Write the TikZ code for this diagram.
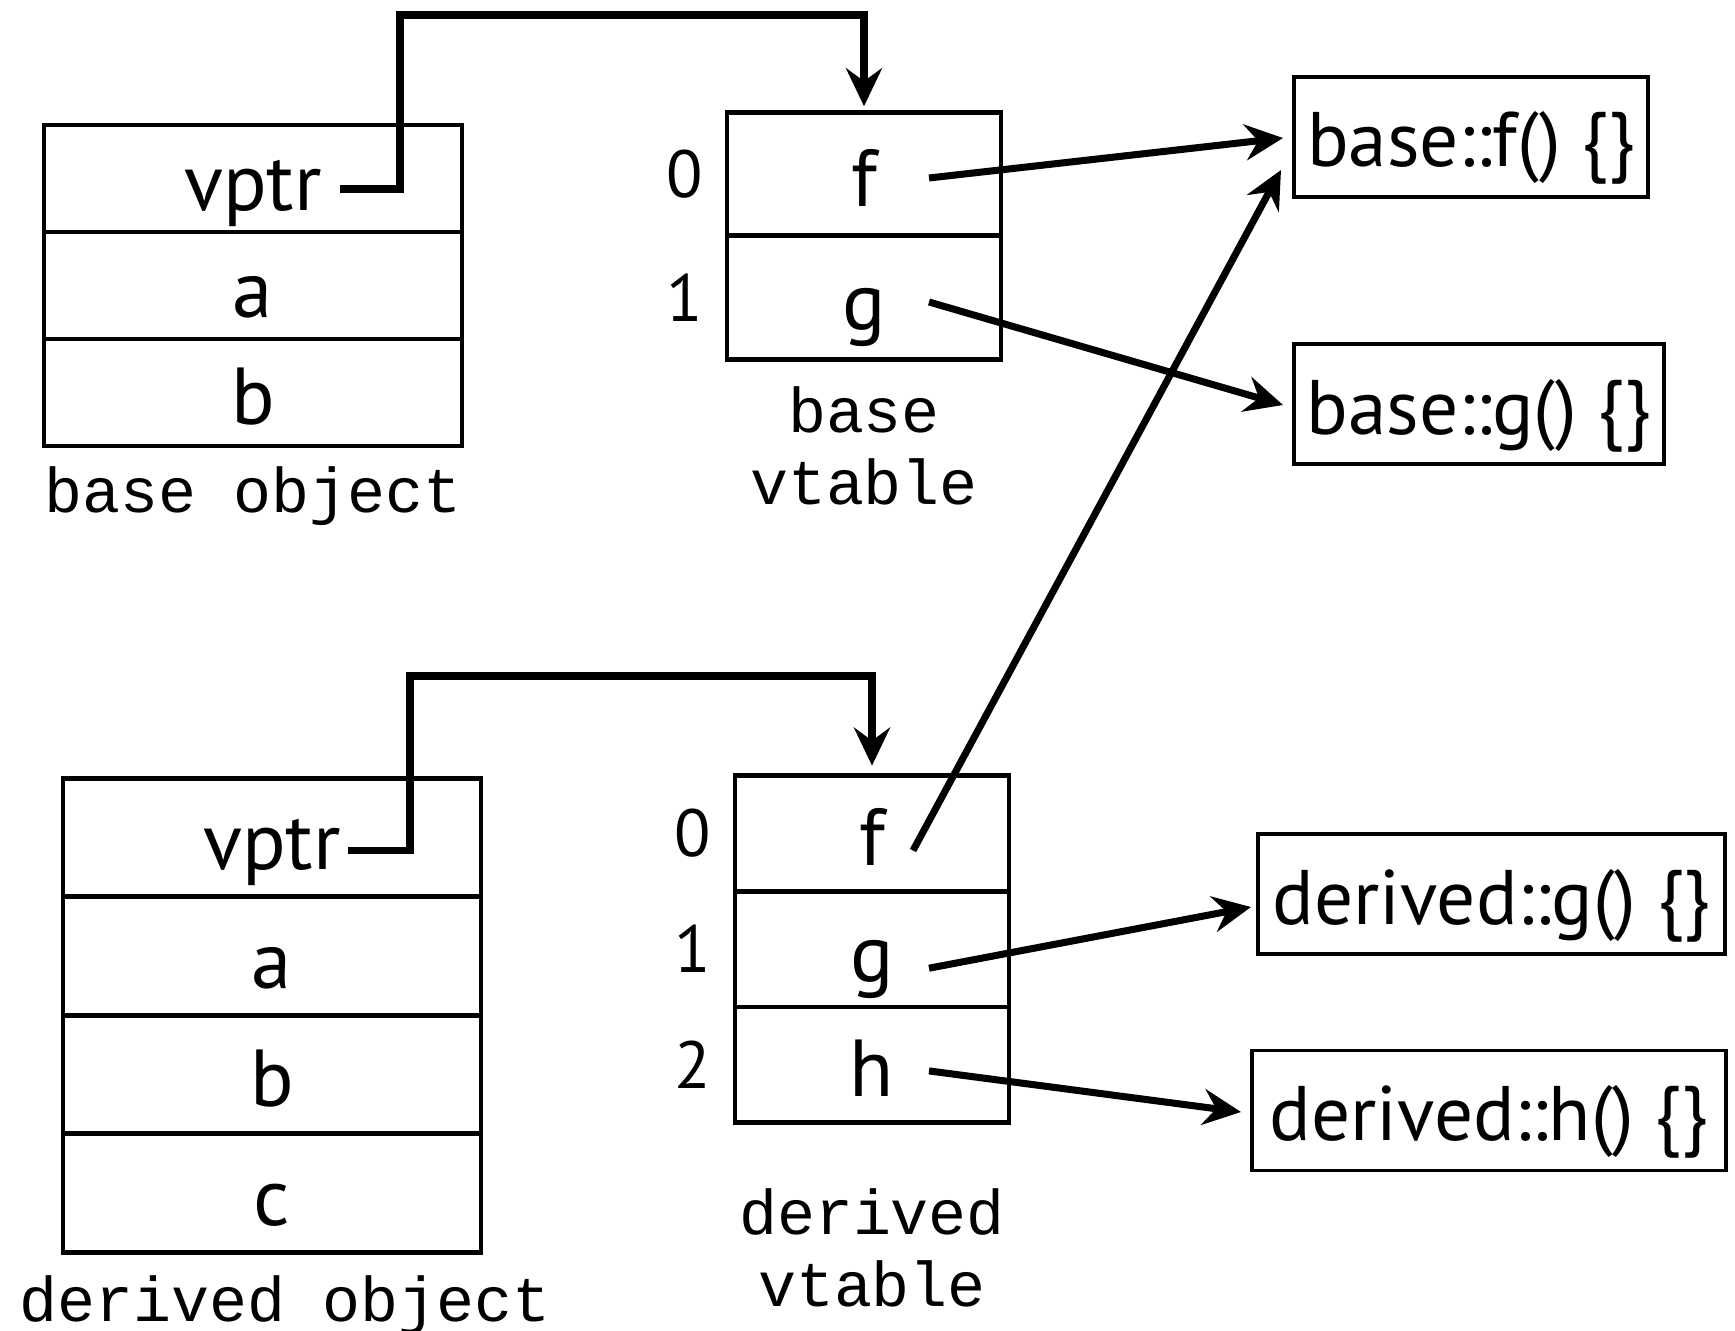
\documentclass[tikz,border=0pt]{standalone}
\usepackage{fontspec}
\setmainfont{PT Sans}
\setmonofont{Liberation Mono}
\usetikzlibrary{positioning,arrows.meta,calc}

\begin{document}
\begin{tikzpicture}[
  node distance=0pt,
  cell/.style={rectangle,draw=black,line width=1.3pt,outer sep=0pt,inner sep=0pt,
               text height=6.4mm,text depth=0pt,font=\fontsize{23}{27}\selectfont},
  ocell/.style={cell,minimum width=41.8mm,minimum height=10.7mm},
  dcell/.style={cell,minimum width=41.8mm,minimum height=11.85mm},
  vcell/.style={cell,minimum width=27.4mm,minimum height=12.35mm},
  wcell/.style={cell,minimum width=27.4mm,minimum height=11.57mm},
  fn/.style={rectangle,draw=black,line width=0.9pt,minimum height=12mm,inner sep=0pt,
             outer sep=0pt,text height=6mm,text depth=0pt,font=\fontsize{22}{26}\selectfont},
  idx/.style={inner sep=0pt,font=\fontsize{19}{22}\selectfont},
  title/.style={inner sep=0pt,align=center,font=\ttfamily\fontsize{18}{20.5}\selectfont},
  ptr/.style={-{Stealth[length=3.8mm,width=3.6mm,inset=1.3mm]},line width=2pt},
]
\useasboundingbox (0,0) rectangle (17.35,-13.31);

% base object
\node[ocell] (bo-vptr) at (2.53,-1.785) {vptr};
\node[ocell,below=of bo-vptr] (bo-a) {a};
\node[ocell,below=of bo-a] (bo-b) {b};
\node[title,below=2mm of bo-b] (bo-title) {base object};

% base vtable
\node[vcell] (bv-f) at (8.64,-1.74) {f};
\node[vcell,below=of bv-f] (bv-g) {g};
\node[idx,left=2.3mm of bv-f] (bv-0) {0};
\node[idx,left=2.3mm of bv-g] (bv-1) {1};
\node[title,below=2.7mm of bv-g] (bv-title) {base\\vtable};

% derived object
\node[dcell] (do-vptr) at (2.72,-8.375) {vptr};
\node[dcell,below=of do-vptr] (do-a) {a};
\node[dcell,below=of do-a] (do-b) {b};
\node[dcell,below=of do-b] (do-c) {c};
\node[title,below=2.3mm of do-c,xshift=1.3mm] (do-title) {derived object};

% derived vtable
\node[wcell] (dv-f) at (8.72,-8.335) {f};
\node[wcell,below=of dv-f] (dv-g) {g};
\node[wcell,below=of dv-g] (dv-h) {h};
\node[idx,left=2.3mm of dv-f] (dv-0) {0};
\node[idx,left=2.3mm of dv-g] (dv-1) {1};
\node[idx,left=2.3mm of dv-h] (dv-2) {2};
\node[title,below=6.5mm of dv-h] (dv-title) {derived\\vtable};

% functions
\node[fn,minimum width=35.4mm] (fbf) at (14.71,-1.37) {base::f() \{\}};
\node[fn,minimum width=37mm] (fbg) at (14.79,-4.04) {base::g() \{\}};
\node[fn,minimum width=46.7mm] (fdg) at (14.915,-8.94) {derived::g() \{\}};
\node[fn,minimum width=47.4mm] (fdh) at (14.89,-11.105) {derived::h() \{\}};

% vptr links
\coordinate (bo-ptr) at ($(bo-vptr.center)+(0.87,-0.105)$);
\coordinate (bo-top) at (4.00,-0.15);
\draw[ptr] (bo-ptr) -| (bo-top) -| ([yshift=0.06cm]bv-f.north);
\coordinate (do-ptr) at ($(do-vptr.center)+(0.76,-0.13)$);
\coordinate (do-top) at (4.10,-6.76);
\draw[ptr] (do-ptr) -| (do-top) -| ([yshift=0.1cm]dv-f.north);

% slots
\draw[ptr] ($(bv-f.center)+(0.65,-0.04)$) -- ($(fbf.west)+(-0.11,-0.01)$);
\draw[ptr] ($(bv-g.center)+(0.65,-0.045)$) -- ($(fbg.west)+(-0.11,-0.01)$);
\draw[ptr] ($(dv-f.center)+(0.41,-0.17)$) -- ($(fbf.south west)+(-0.13,0.27)$);
\draw[ptr] ($(dv-g.center)+(0.57,-0.19)$) -- ($(fdg.west)+(-0.07,-0.13)$);
\draw[ptr] ($(dv-h.center)+(0.57,-0.06)$) -- ($(fdh.west)+(-0.11,-0.015)$);
\end{tikzpicture}
\end{document}
